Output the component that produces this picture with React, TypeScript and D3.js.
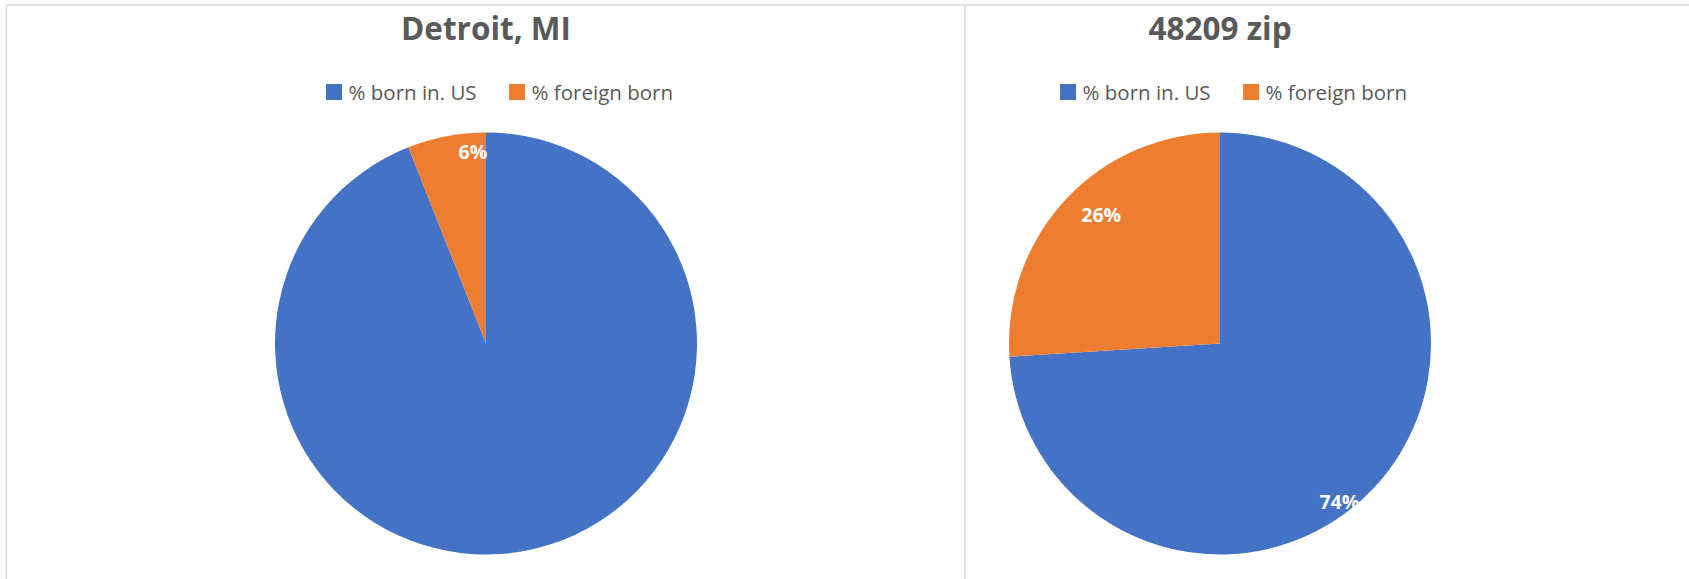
import React, { useEffect, useRef } from "react";
import * as d3 from "d3";

// ---- data ----
const CHART_TITLES = ["Detroit, MI", "48209 zip"];
const CATEGORIES = ["% born in. US", "% foreign born"];
const DETROIT_VALUES = [94, 6];
const ZIP_VALUES = [74, 26];
const SERIES = [DETROIT_VALUES, ZIP_VALUES];
const COLORS = ["#4472C4", "#ED7D31"];
// which data labels are visible in the source picture
const LABEL_SHOWN = [
  [false, true],
  [true, true],
];

// ---- layout ----
const W = 1689;
const H = 579;
const PANEL_CX = [486, 1220];
const PIE_CY = 343.5;
const PIE_R = 211;
// per-chart label placement (radius fraction, angular nudge in degrees) mimicking Excel's best fit
const LABEL_RADIUS = [
  [0.91, 0.91],
  [0.94, 0.83],
];
const LABEL_NUDGE = [
  [0, 6.9],
  [9.8, 4.1],
];

export default function App() {
  const ref = useRef<SVGSVGElement | null>(null);

  useEffect(() => {
    const svg = d3.select(ref.current);
    svg.selectAll("*").remove();

    // frame
    const frame = svg.append("g").attr("stroke", "#d9d9d9").attr("stroke-width", 1.5).attr("fill", "none");
    frame.append("line").attr("x1", 6.5).attr("x2", W).attr("y1", 5).attr("y2", 5);
    frame.append("line").attr("x1", 6.5).attr("x2", 6.5).attr("y1", 5).attr("y2", H);
    frame.append("line").attr("x1", 965).attr("x2", 965).attr("y1", 5).attr("y2", H);

    const pie = d3.pie<number>().sort(null).value((d) => d);
    const arc = d3.arc<d3.PieArcDatum<number>>().innerRadius(0).outerRadius(PIE_R);
    const fmt = d3.format(".0%");

    SERIES.forEach((values, ci) => {
      const cx = PANEL_CX[ci];
      const total = d3.sum(values);
      const g = svg.append("g");

      // title
      g.append("text")
        .attr("x", cx)
        .attr("y", 39.5)
        .attr("text-anchor", "middle")
        .attr("font-family", "'Open Sans', sans-serif")
        .attr("font-weight", 700)
        .attr("font-size", 31.5)
        .attr("fill", "#595959")
        .text(CHART_TITLES[ci]);

      // legend
      let lx = cx - 161;
      CATEGORIES.forEach((cat, i) => {
        g.append("rect")
          .attr("x", lx + 1)
          .attr("y", 84)
          .attr("width", 16)
          .attr("height", 16)
          .attr("fill", COLORS[i]);
        const t = g
          .append("text")
          .attr("x", lx + 23.5)
          .attr("y", 99.5)
          .attr("font-family", "'Open Sans', sans-serif")
          .attr("font-size", 20.5)
          .attr("fill", "#595959")
          .text(cat);
        const tw = (t.node() as SVGTextElement).getComputedTextLength();
        lx += 23.5 + tw + 31.5;
      });

      // pie
      const pg = g.append("g").attr("transform", `translate(${cx},${PIE_CY})`);
      const arcs = pie(values);
      pg.selectAll("path")
        .data(arcs)
        .join("path")
        .attr("d", arc)
        .attr("fill", (_d, i) => COLORS[i]);

      // data labels
      arcs.forEach((a, i) => {
        if (!LABEL_SHOWN[ci][i]) return;
        const mid = (a.startAngle + a.endAngle) / 2 + (LABEL_NUDGE[ci][i] * Math.PI) / 180;
        const r = PIE_R * LABEL_RADIUS[ci][i];
        const la = d3.arc<any>().innerRadius(r).outerRadius(r);
        const [x, y] = la.centroid({ startAngle: mid, endAngle: mid } as any) as [number, number];
        pg.append("text")
          .attr("x", x)
          .attr("y", y)
          .attr("dy", "0.35em")
          .attr("text-anchor", "middle")
          .attr("font-family", "'Open Sans', sans-serif")
          .attr("font-weight", 700)
          .attr("font-size", 19.5)
          .attr("fill", "#ffffff")
          .text(fmt(a.data / total));
      });
    });
  }, []);

  return (
    <svg
      ref={ref}
      width={W}
      height={H}
      style={{ position: "absolute", left: 0, top: 0, background: "#ffffff" }}
    />
  );
}
